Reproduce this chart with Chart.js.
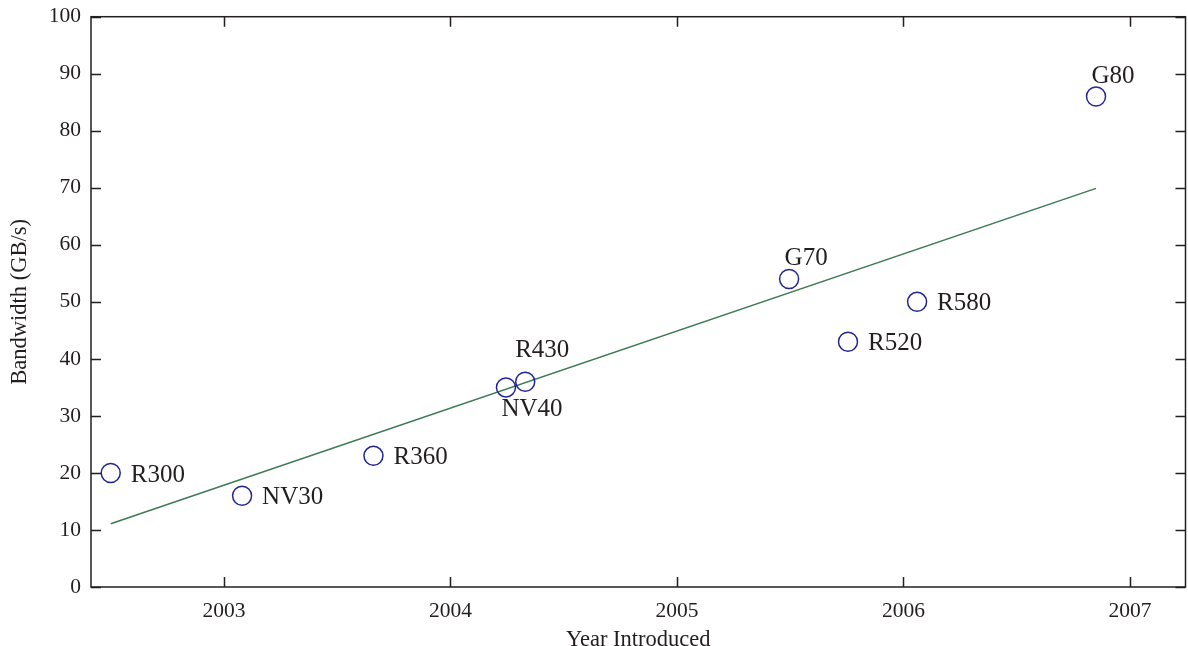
<!DOCTYPE html>
<html><head><meta charset="utf-8">
<script src="https://cdn.jsdelivr.net/npm/chart.js@4"></script>
<style>html,body{margin:0;padding:0;background:#fff}#wrap{width:1188px;height:646px}</style>
</head><body><div id="wrap"><canvas id="c" width="1188" height="646"></canvas></div>
<script>
const gpuNames = ["R300","NV30","R360","NV40","R430","G70","R520","R580","G80"];
const gpuYears = [2002.5,2003.08,2003.66,2004.245,2004.33,2005.495,2005.755,2006.06,2006.85];
const gpuBandwidth = [20,16,23,35,36,54,43,50,86];
const labelSide = ["right","right","right","below","aboveFar","above","right","right","above"];
const trendYears = [2002.5,2006.85];
const trendBandwidth = [11.1,69.9];
const xTicks = [2003,2004,2005,2006,2007];
const yTicks = [0,10,20,30,40,50,60,70,80,90,100];

const ink = '#231f20';
const serif = '"Liberation Serif","DejaVu Serif",serif';

const framePlugin = {
  id:'frame',
  afterDatasetsDraw(chart){
    const {ctx, chartArea:a, scales:{x,y}} = chart;
    ctx.save();
    ctx.strokeStyle = ink; ctx.lineWidth = 1.5;
    ctx.strokeRect(a.left, a.top, a.right-a.left, a.bottom-a.top);
    const L = 10;
    ctx.beginPath();
    xTicks.forEach(v=>{const px=Math.round(x.getPixelForValue(v))+0.5;
      ctx.moveTo(px,a.bottom);ctx.lineTo(px,a.bottom-L);
      ctx.moveTo(px,a.top);ctx.lineTo(px,a.top+L);});
    yTicks.forEach(v=>{const py=Math.round(y.getPixelForValue(v))+0.5;
      ctx.moveTo(a.left,py);ctx.lineTo(a.left+L,py);
      ctx.moveTo(a.right,py);ctx.lineTo(a.right-L,py);});
    ctx.stroke();
    ctx.fillStyle = ink;
    ctx.font = '25px '+serif;
    gpuNames.forEach((n,i)=>{
      const px = x.getPixelForValue(gpuYears[i]);
      const py = y.getPixelForValue(gpuBandwidth[i]);
      const s = labelSide[i];
      if(s==='right'){ctx.textAlign='left';ctx.textBaseline='middle';ctx.fillText(n,px+20,py+2);}
      else if(s==='above'){ctx.textAlign='center';ctx.textBaseline='alphabetic';ctx.fillText(n,px+17,py-14);}
      else if(s==='aboveFar'){ctx.textAlign='center';ctx.textBaseline='alphabetic';ctx.fillText(n,px+17,py-25);}
      else {ctx.textAlign='center';ctx.textBaseline='top';ctx.fillText(n,px+26,py+10);}
    });
    ctx.restore();
  }
};

new Chart(document.getElementById('c'),{
  type:'scatter',
  data:{datasets:[
    {data:gpuYears.map((v,i)=>({x:v,y:gpuBandwidth[i]})),showLine:false,
     pointStyle:'circle',pointRadius:9.5,pointHoverRadius:9.5,pointBorderWidth:1.5,
     borderColor:'#25259a',backgroundColor:'rgba(0,0,0,0)'},
    {data:trendYears.map((v,i)=>({x:v,y:trendBandwidth[i]})),showLine:true,
     pointRadius:0,borderColor:'#3b7a52',borderWidth:1.5}
  ]},
  options:{
    responsive:false,animation:false,
    layout:{autoPadding:false,padding:{left:0,right:2.5,top:16.7,bottom:0}},
    plugins:{legend:{display:false},tooltip:{enabled:false}},
    scales:{
      x:{type:'linear',min:2002.413,max:2007.245,
        afterBuildTicks(s){s.ticks=xTicks.map(v=>({value:v}));},
        afterFit(s){s.height=59;s.paddingRight=0;s.paddingLeft=0;},
        grid:{display:false},border:{display:false},
        ticks:{color:ink,font:{family:serif,size:21.5},padding:3,callback:v=>String(v)},
        title:{display:true,text:'Year Introduced',color:ink,font:{family:serif,size:22.5,lineHeight:1},padding:{top:0,bottom:-5}}},
      y:{type:'linear',min:0,max:100,
        afterBuildTicks(s){s.ticks=yTicks.map(v=>({value:v}));},
        afterFit(s){s.width=91;s.paddingTop=0;s.paddingBottom=0;},
        grid:{display:false},border:{display:false},
        ticks:{color:ink,font:{family:serif,size:21.5},padding:2},
        title:{display:true,text:'Bandwidth (GB/s)',color:ink,font:{family:serif,size:22.5,lineHeight:1},padding:{top:9,bottom:0}}}
    }
  },
  plugins:[framePlugin]
});
</script></body></html>
